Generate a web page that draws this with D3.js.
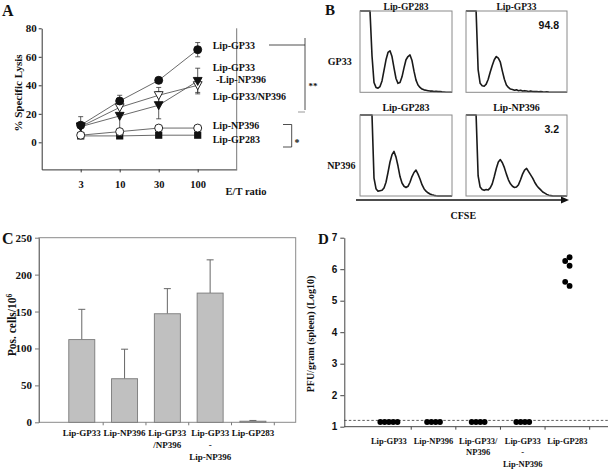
<!DOCTYPE html>
<html><head><meta charset="utf-8">
<script src="https://cdn.jsdelivr.net/npm/d3@7"></script>
<style>
body{margin:0;background:#fff;}
svg{display:block;background:#fff;}
text{font-family:"Liberation Serif","Times New Roman",serif;font-weight:bold;fill:#111;}
.sans{font-family:"Liberation Sans",Arial,sans-serif;}
</style></head><body>
<svg id="c" width="608" height="471"></svg>
<script>
// ---------- Panel A data ----------
const etRatios = ["3","10","30","100"];
const lysisTicks = [0,20,40,60,80];
const lysisGP33 = [12, 29, 43.5, 65];
const lysisGP33Err = [6, 4, 0, 5];
const lysisGP33dashNP396 = [11, 18.5, 26, 43];
const lysisGP33dashNP396Err = [0, 11, 9.5, 9];
const lysisGP33slashNP396 = [11, 24.5, 33, 40];
const lysisGP33slashNP396Err = [0, 0, 5.5, 5];
const lysisNP396 = [5, 7.5, 10, 10];
const lysisGP283 = [4.5, 4.5, 5, 5];

// ---------- Panel B data ----------
const cfseRowLabels = ["GP33","NP396"];
const cfseTitles = [["Lip-GP283","Lip-GP33"],["Lip-GP283","Lip-NP396"]];
const cfsePercents = [[null,"94.8"],[null,"3.2"]];
const histGP33ctrl = [130,130,130,130,130,130,45,12,6,5,7,14,27,40,49,51,44,30,17,11,12,19,30,40,44,46,39,26,15,9,6,4,3,2.5,2,1.5,1.5,1,1.2,0.8,1,0.5,0.3,0,0,0,0];
const histGP33lip = [130,130,130,130,130,130,28,11,8,7.5,10,16,25,33,40,44,42,37,26,16,9,6,4,3.5,2.5,3,2,2.5,1.5,2,1.5,1,1.5,1,0.8,1,0.5,0.8,0.5,0.3,0.5,0.2,0,0,0,0,0,0,0,0,0];
const histNP396ctrl = [130,130,130,130,130,130,130,22,9,6,6.5,7,10,17,29,42,51,55,48,37,24,16,12,10.5,12,17,24,29,32,27,21,14,9,6,4,2.5,1.5,0.8,0.3,0,0,0,0,0,0,0,0];
const histNP396lip = [130,130,130,130,130,130,25,11,8,7,8,7.5,10,15,24,34,42,45,41,35,27,20,15,12,10.5,11,14,20,27,32,34,30,26,22,17,13,10,7.5,5,3.5,2,1,0.5,0,0,0,0,0,0,0,0];
const cfseHists = [[histGP33ctrl, histGP33lip],[histNP396ctrl, histNP396lip]];

// ---------- Panel C data ----------
const groupsC = [["Lip-GP33"],["Lip-NP396"],["Lip-GP33","/NP396"],["Lip-GP33","-","Lip-NP396"],["Lip-GP283"]];
const posCells = [112, 59, 147, 175, 1.5];
const posCellsErr = [41, 40, 34, 45, 1];
const posTicks = [0,50,100,150,200,250];

// ---------- Panel D data ----------
const groupsD = [["Lip-GP33"],["Lip-NP396"],["Lip-GP33/","NP396"],["Lip-GP33","-","Lip-NP396"],["Lip-GP283"]];
const pfuGP33 = [1.15,1.15,1.15,1.15,1.15];
const pfuNP396 = [1.15,1.15,1.15,1.15];
const pfuGP33slashNP396 = [1.15,1.15,1.15,1.15];
const pfuGP33dashNP396 = [1.15,1.15,1.15,1.15];
const pfuGP283 = [6.38,6.26,6.11,5.6,5.47];
const pfuGroups = [pfuGP33, pfuNP396, pfuGP33slashNP396, pfuGP33dashNP396, pfuGP283];
const detectionLimit = 1.2;
const pfuTicks = [1,2,3,4,5,6,7];

const svg = d3.select("#c");
const ink = "#111";

function letter(x,y,t,fs){ svg.append("text").attr("x",x).attr("y",y).attr("dy","0.35em").style("font-size",(fs||16)+"px").text(t); }

// ================= Panel A =================
letter(2, 10, "A");
const yA = d3.scaleLinear().domain([-19,80]).range([169.4,28.3]);
const xA = d3.scaleLinear().domain([0,5]).range([41.7,236.7]);
const gA = svg.append("g");
const axL = gA.append("g").attr("transform","translate(41.7,0)")
  .call(d3.axisLeft(yA).tickValues(lysisTicks).tickSize(3).tickSizeOuter(0).tickPadding(2));
axL.selectAll("text").style("font-size","11px").attr("font-family",null).attr("fill",ink);
axL.selectAll("line,path").attr("stroke","#333");
const axB = gA.append("g").attr("transform","translate(0,169.4)")
  .call(d3.axisBottom(xA).tickValues([1,2,3,4]).tickFormat(i=>etRatios[i-1]).tickSize(3).tickSizeOuter(0).tickPadding(8));
axB.selectAll("text").style("font-size","10.5px").attr("font-family",null).attr("fill",ink);
axB.selectAll("line,path").attr("stroke","#333");
gA.append("line").attr("x1",xA(5)).attr("x2",xA(5)).attr("y1",yA(80)).attr("y2",yA(-19)).attr("stroke","#777");
gA.append("text").attr("x",246).attr("y",191.5).attr("dy","0.35em").attr("text-anchor","middle").style("font-size","10.5px").text("E/T ratio");
gA.append("text").attr("transform","translate(18,93) rotate(-90)").attr("text-anchor","middle").attr("dy","0.35em").style("font-size","11px").text("% Specific Lysis");

const seriesA = [
  {v:lysisGP283, e:null, shape:"square", fill:ink},
  {v:lysisNP396, e:null, shape:"circle", fill:"#fff"},
  {v:lysisGP33slashNP396, e:lysisGP33slashNP396Err, shape:"tri", fill:"#fff"},
  {v:lysisGP33dashNP396, e:lysisGP33dashNP396Err, shape:"tri", fill:ink},
  {v:lysisGP33, e:lysisGP33Err, shape:"circle", fill:ink}
];
const lineA = d3.line().x((d,i)=>xA(i+1)).y(d=>yA(d));
seriesA.forEach(s=>{
  gA.append("path").attr("d",lineA(s.v)).attr("fill","none").attr("stroke","#444").attr("stroke-width",0.8);
});
seriesA.forEach(s=>{
  if(!s.e) return;
  s.v.forEach((d,i)=>{
    if(!s.e[i]) return;
    const x=xA(i+1);
    gA.append("line").attr("x1",x).attr("x2",x).attr("y1",yA(d-s.e[i])).attr("y2",yA(d+s.e[i])).attr("stroke","#333").attr("stroke-width",0.8);
    [d-s.e[i], d+s.e[i]].forEach(v=>gA.append("line").attr("x1",x-2.5).attr("x2",x+2.5).attr("y1",yA(v)).attr("y2",yA(v)).attr("stroke","#333").attr("stroke-width",0.8));
  });
});
seriesA.forEach(s=>{
  s.v.forEach((d,i)=>{
    const x=xA(i+1), y=yA(d);
    if(s.shape==="circle") gA.append("circle").attr("cx",x).attr("cy",y).attr("r",4).attr("fill",s.fill).attr("stroke",ink).attr("stroke-width",0.9);
    else if(s.shape==="square") gA.append("rect").attr("x",x-3.6).attr("y",y-3.6).attr("width",7.2).attr("height",7.2).attr("fill",s.fill);
    else gA.append("path").attr("d",`M${x-4.4},${y-3.6}L${x+4.4},${y-3.6}L${x},${y+4.4}Z`).attr("fill",s.fill).attr("stroke",ink).attr("stroke-width",0.9);
  });
});
const labA = [
  {t:"Lip-GP33", x:212.7, y:45},
  {t:"Lip-GP33", x:212.7, y:67},
  {t:"-Lip-NP396", x:216, y:79},
  {t:"Lip-GP33/NP396", x:212.7, y:96},
  {t:"Lip-NP396", x:212.7, y:125},
  {t:"Lip-GP283", x:212.7, y:139.5}
];
labA.forEach(l=>gA.append("text").attr("x",l.x).attr("y",l.y).attr("dy","0.35em").style("font-size","10px").text(l.t));
// significance brackets
gA.append("line").attr("x1",269).attr("x2",305).attr("y1",45).attr("y2",45).attr("stroke","#222").attr("stroke-width",0.8);
gA.append("line").attr("x1",305).attr("x2",305).attr("y1",38).attr("y2",110).attr("stroke","#222").attr("stroke-width",0.8);
gA.append("line").attr("x1",298).attr("x2",305).attr("y1",112).attr("y2",112).attr("stroke","#999").attr("stroke-width",1);
gA.append("text").attr("x",308.5).attr("y",86).attr("dy","0.35em").style("font-size","9px").text("**");
gA.append("path").attr("d","M283,124.5H291.7V147H283").attr("fill","none").attr("stroke","#222").attr("stroke-width",0.8);
gA.append("text").attr("x",294.5).attr("y",142).attr("dy","0.35em").style("font-size","10px").text("*");

// ================= Panel B =================
letter(325, 10, "B", 15);
const boxesB = [
  [{x0:360,x1:452,y0:11,y1:92.3},{x0:466,x1:567,y0:11,y1:92.3}],
  [{x0:360,x1:452,y0:115,y1:196},{x0:466,x1:567,y0:115,y1:196}]
];
const gB = svg.append("g");
boxesB.forEach((row,r)=>{
  row.forEach((b,c)=>{
    const h = cfseHists[r][c];
    const xs = d3.scaleLinear().domain([0,(h.length-1)*2]).range([b.x0,b.x1]);
    const ys = d3.scaleLinear().domain([0,100]).range([b.y1,b.y0]).clamp(true);
    gB.append("path").attr("d",d3.line().x((d,i)=>xs(i*2)).y(d=>ys(d))(h))
      .attr("fill","none").attr("stroke","#1a1a1a").attr("stroke-width",1.6).attr("stroke-linejoin","round");
    gB.append("rect").attr("x",b.x0).attr("y",b.y0).attr("width",b.x1-b.x0).attr("height",b.y1-b.y0)
      .attr("fill","none").attr("stroke","#8a8a8a").attr("stroke-width",1);
    gB.append("text").attr("x",(b.x0+b.x1)/2).attr("y",r===0?9.5:b.y0-4).attr("text-anchor","middle").style("font-size",r===0?"9.5px":"10px").text(cfseTitles[r][c]);
    if(cfsePercents[r][c]) gB.append("text").attr("class","sans").attr("x",b.x1-8).attr("y",b.y0+14.5).attr("text-anchor","end").attr("dy","0.35em").style("font-size","10.5px").text(cfsePercents[r][c]);
  });
  gB.append("text").attr("x",(r===0?339.7:341.3)).attr("y",(r===0?61.7:165)).attr("text-anchor","middle").attr("dy","0.35em").style("font-size","10px").text(cfseRowLabels[r]);
});
gB.append("line").attr("x1",356).attr("x2",562).attr("y1",200).attr("y2",200).attr("stroke","#111").attr("stroke-width",1.4);
gB.append("path").attr("d","M561,196.5L569,200L561,203.5Z").attr("fill","#111");
gB.append("text").attr("x",463.3).attr("y",215).attr("text-anchor","middle").attr("dy","0.35em").style("font-size","10px").text("CFSE");

// ================= Panel C =================
letter(2, 238, "C");
const yC = d3.scaleLinear().domain([0,250]).range([422.3,237.7]);
const xC = d3.scaleLinear().domain([0,6]).range([39,295.7]);
const gC = svg.append("g");
gC.append("rect").attr("x",xC(0)).attr("y",yC(250)).attr("width",xC(6)-xC(0)).attr("height",yC(0)-yC(250)).attr("fill","none").attr("stroke","#8a8a8a");
const axCL = gC.append("g").attr("transform",`translate(${xC(0)},0)`)
  .call(d3.axisLeft(yC).tickValues(posTicks).tickSize(4).tickSizeOuter(0).tickPadding(3));
axCL.selectAll("text").style("font-size","11px").attr("font-family",null).attr("fill",ink);
axCL.selectAll("line,path").attr("stroke","#777");
d3.range(1,6).forEach(k=>{
  const x = xC(k+0.5);
  gC.append("line").attr("x1",x).attr("x2",x).attr("y1",yC(0)).attr("y2",yC(0)+3).attr("stroke","#777");
});
const bw = 26;
posCells.forEach((v,i)=>{
  const cx = xC(i+1);
  gC.append("line").attr("x1",cx).attr("x2",cx).attr("y1",yC(v)).attr("y2",yC(v+posCellsErr[i])).attr("stroke","#666").attr("stroke-width",1);
  gC.append("line").attr("x1",cx-3.5).attr("x2",cx+3.5).attr("y1",yC(v+posCellsErr[i])).attr("y2",yC(v+posCellsErr[i])).attr("stroke","#666").attr("stroke-width",1);
  gC.append("rect").attr("x",cx-bw/2).attr("y",yC(v)).attr("width",bw).attr("height",yC(0)-yC(v))
    .attr("fill","#c0c0c0").attr("stroke","#7a7a7a").attr("stroke-width",0.9);
  groupsC[i].forEach((t,j)=>gC.append("text").attr("x",cx).attr("y",433+j*12).attr("dy","0.35em").attr("text-anchor","middle").style("font-size","9px").text(t));
});
gC.append("text").attr("transform","translate(12,325) rotate(-90)").attr("text-anchor","middle").attr("dy","0.35em").style("font-size","11.5px")
  .html('Pos. cells/10<tspan dy="-4" style="font-size:7.5px">6</tspan>');

// ================= Panel D =================
letter(318, 238.5, "D", 15);
const yD = d3.scaleLinear().domain([1,7]).range([426.7,237.7]);
const xD = d3.scaleLinear().domain([0,6]).range([344.3,612]);
const gD = svg.append("g");
const axDL = gD.append("g").attr("transform",`translate(${xD(0)},0)`)
  .call(d3.axisLeft(yD).tickValues(pfuTicks).tickFormat(d3.format("d")).tickSize(4).tickSizeOuter(0).tickPadding(3));
axDL.selectAll("text").attr("class","sans").style("font-size","10px").attr("font-family",null).attr("fill",ink);
axDL.selectAll("line,path").attr("stroke","#444");
gD.append("line").attr("x1",xD(0)).attr("x2",608).attr("y1",yD(1)).attr("y2",yD(1)).attr("stroke","#444");
d3.range(1,6).forEach(k=>{
  const x = xD(k+0.5);
  gD.append("line").attr("x1",x).attr("x2",x).attr("y1",yD(1)).attr("y2",yD(1)+3).attr("stroke","#444");
});
gD.append("line").attr("x1",xD(0)).attr("x2",608).attr("y1",yD(detectionLimit)).attr("y2",yD(detectionLimit))
  .attr("stroke","#333").attr("stroke-width",0.8).attr("stroke-dasharray","2.5,2");
pfuGroups.forEach((vals,i)=>{
  const cx = xD(i+1);
  const same = d3.max(vals)-d3.min(vals) < 0.01;
  vals.forEach((v,j)=>{
    const x = same ? cx + (j-(vals.length-1)/2)*4.3 : cx + (j%2===0 ? 2.2 : -2.2);
    gD.append("circle").attr("cx",x).attr("cy",yD(v)).attr("r",2.9).attr("fill","#000");
  });
  groupsD[i].forEach((t,j)=>gD.append("text").attr("x",cx).attr("y",441+j*11.5).attr("dy","0.35em").attr("text-anchor","middle").style("font-size","8.5px").text(t));
});
gD.append("text").attr("transform","translate(310,334) rotate(-90)").attr("text-anchor","middle").attr("dy","0.35em").style("font-size","10px").text("PFU/gram (spleen) (Log10)");
</script>
</body></html>
